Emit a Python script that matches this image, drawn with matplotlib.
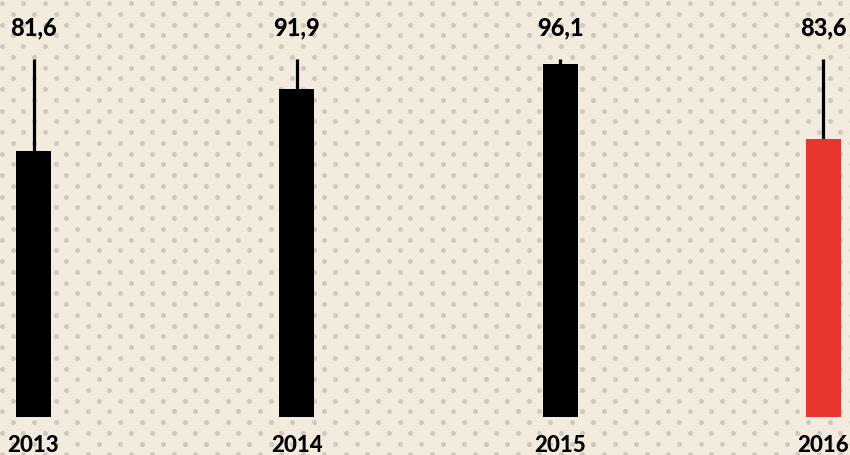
import numpy as np
import matplotlib
matplotlib.use("Agg")
import matplotlib.pyplot as plt

years = ["2013", "2014", "2015", "2016"]
values = [81.6, 91.9, 96.1, 83.6]
labels = ["81,6", "91,9", "96,1", "83,6"]
colors = ["#000000", "#000000", "#000000", "#E8352D"]

W, H = 850, 456
fig = plt.figure(figsize=(W / 100, H / 100), dpi=100)
bg_col = "#F3EBDE"
fig.patch.set_facecolor(bg_col)

# dotted background
bg = fig.add_axes([0, 0, 1, 1])
bg.set_xlim(0, W)
bg.set_ylim(H, 0)
bg.axis("off")
dx, dy = 21.5, 10.75
xs, ys = [], []
for r, yy in enumerate(np.arange(4, H + dy, dy)):
    off = 0 if r % 2 == 0 else dx / 2
    for xx in np.arange(off + 2, W + dx, dx):
        xs.append(xx)
        ys.append(yy)
bg.scatter(xs, ys, s=13, color="#D0C9BF", linewidths=0, zorder=0)

ax = fig.add_axes([0, 0, 1, 1])
ax.patch.set_alpha(0)
base = 37.7
ppu = 6.05  # pixels per unit
ymin = base - (H - 418) / ppu
ymax = base + 418 / ppu
ax.set_ylim(ymin, ymax)
x = np.arange(len(years))
step = 263.3
ax.set_xlim(-33.5 / step, 3 + (W - 823.5) / step)
ax.axis("off")

line_top = base + (418 - 60) / ppu
label_y = base + (418 - 28) / ppu
year_y = base - (446 - 418) / ppu

for i, v in enumerate(values):
    ax.vlines(x[i], v, line_top, color="black", linewidth=2.3, zorder=2)
ax.bar(x, [v - base for v in values], bottom=base, width=35 / step,
       color=colors, zorder=3)

for i in range(len(years)):
    ax.text(x[i], label_y, labels[i], ha="center", va="center",
            fontsize=17, fontweight="black", family="Lato", color="black")
    ax.text(x[i], year_y, years[i], ha="center", va="center",
            fontsize=16, fontweight="black", family="Lato", color="black")

fig.savefig("out.png", dpi=100, facecolor=bg_col)
